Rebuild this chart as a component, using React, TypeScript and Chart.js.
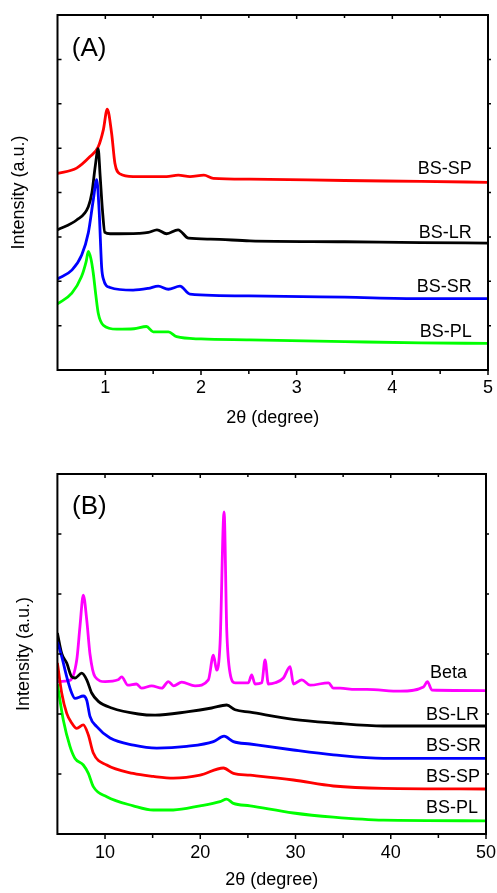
import React, { useEffect, useRef } from 'react';
import { Chart, registerables } from 'chart.js';

Chart.register(...registerables);

const FONT = '"Liberation Sans", Arial, Helvetica, sans-serif';

type Pt = [number, number];

// ---------- Panel (A): small-angle XRD, 2θ 0.5–5 ----------
const topSP: Pt[] = [[0.5,4.43],[0.7,4.55],[0.84,4.81],[0.926,5.03],[0.979,5.41],[1.02,5.88],[1.066,5.33],[1.1,4.66],[1.153,4.42],[1.29,4.36],[1.64,4.36],[1.762,4.39],[1.885,4.36],[2.03,4.39],[2.128,4.32],[2.51,4.3],[3.5,4.27],[4.3,4.25],[5.0,4.23]];
const topLR: Pt[] = [[0.5,3.16],[0.7,3.38],[0.822,3.68],[0.86,4.0],[0.895,4.6],[0.925,4.99],[0.945,4.4],[0.97,3.6],[0.995,3.1],[1.05,3.07],[1.35,3.08],[1.45,3.1],[1.54,3.16],[1.64,3.07],[1.76,3.16],[1.87,2.97],[2.1,2.95],[2.51,2.91],[3.5,2.89],[4.3,2.87],[5.0,2.86]];
const topSR: Pt[] = [[0.5,2.05],[0.65,2.25],[0.753,2.59],[0.822,3.09],[0.874,3.83],[0.91,4.29],[0.935,3.6],[0.962,2.3],[0.98,2.05],[1.049,1.86],[1.29,1.8],[1.45,1.84],[1.553,1.89],[1.658,1.82],[1.78,1.89],[1.885,1.71],[2.5,1.67],[3.5,1.64],[4.3,1.61],[5.0,1.61]];
const topPL: Pt[] = [[0.5,1.49],[0.65,1.73],[0.75,2.1],[0.8,2.45],[0.822,2.67],[0.85,2.5],[0.874,2.18],[0.9,1.7],[0.926,1.28],[0.979,1.01],[1.12,0.92],[1.3,0.93],[1.43,0.98],[1.5,0.86],[1.66,0.86],[1.745,0.75],[2.0,0.7],[2.51,0.68],[3.5,0.64],[4.3,0.61],[5.0,0.6]];

const topXLabels = [1, 2, 3, 4, 5];
const topXMinor = [1.5, 2.5, 3.5, 4.5];
const topYTicks = [1, 2, 3, 4, 5, 6, 7];
const topNames = ['BS-SP', 'BS-LR', 'BS-SR', 'BS-PL'];
const topNameX = [4.83, 4.83, 4.83, 4.83];
const topNameY = [4.54, 3.09, 1.87, 0.86];

// ---------- Panel (B): wide-angle XRD, 2θ 5–50 ----------
const botBeta: Pt[] = [[5.0,2.54],[6.3,2.56],[7.03,2.9],[7.37,3.46],[7.72,3.98],[8.08,3.57],[8.42,3.0],[8.95,2.62],[10.0,2.54],[11.37,2.57],[11.75,2.62],[12.4,2.48],[13.3,2.5],[13.85,2.43],[14.9,2.47],[15.95,2.43],[16.65,2.54],[17.2,2.47],[18.05,2.53],[19.45,2.47],[20.85,2.57],[21.38,2.98],[21.73,2.73],[22.08,3.18],[22.5,5.37],[22.78,3.4],[23.13,2.68],[23.66,2.52],[25.05,2.52],[25.4,2.65],[25.75,2.5],[26.46,2.52],[26.8,2.9],[27.15,2.5],[27.86,2.52],[28.73,2.6],[29.43,2.79],[29.78,2.5],[30.66,2.57],[31.53,2.48],[33.46,2.52],[33.98,2.43],[34.69,2.43],[36.26,2.41],[37.49,2.41],[41.0,2.38],[43.43,2.45],[43.85,2.54],[44.32,2.4],[50.0,2.39]];
const botLR: Pt[] = [[5.0,3.35],[5.45,3.01],[5.98,2.85],[6.5,2.62],[6.85,2.6],[7.55,2.68],[8.08,2.57],[8.6,2.35],[9.3,2.21],[10.7,2.1],[13.5,2.0],[15.25,1.98],[18.75,2.04],[21.2,2.1],[22.78,2.15],[23.66,2.07],[25.23,2.03],[29.78,1.91],[33.98,1.85],[39.23,1.8],[50,1.8]];
const botSR: Pt[] = [[5.0,3.2],[5.45,2.96],[5.98,2.62],[6.5,2.35],[6.85,2.26],[7.72,2.3],[8.08,2.23],[8.42,1.96],[9.13,1.79],[10.53,1.6],[13.0,1.48],[15.43,1.43],[18.58,1.46],[21.38,1.54],[22.5,1.63],[23.48,1.54],[25.23,1.5],[29.78,1.4],[33.98,1.32],[39.23,1.26],[50,1.26]];
const botSP: Pt[] = [[5.0,2.85],[5.45,2.35],[5.98,2.01],[6.5,1.85],[7.03,1.76],[7.72,1.82],[8.25,1.65],[8.77,1.35],[10.18,1.15],[12.97,1.01],[15.07,0.96],[17.17,0.93],[19.98,0.98],[22.43,1.1],[23.48,1.01],[25.23,0.98],[29.78,0.9],[33.98,0.8],[39.23,0.76],[50,0.75]];
const botPL: Pt[] = [[5.0,2.5],[5.62,1.9],[6.32,1.46],[6.85,1.26],[7.72,1.15],[8.25,1.01],[8.77,0.79],[10.18,0.62],[12.97,0.47],[15.07,0.4],[17.17,0.4],[19.98,0.47],[22.08,0.54],[22.78,0.58],[23.48,0.51],[25.23,0.47],[29.78,0.35],[33.98,0.28],[39.23,0.23],[50,0.22]];

const botXLabels = [10, 20, 30, 40, 50];
const botXMinor = [15, 25, 35, 45];
const botYTicks = [1, 2, 3, 4, 5];
const botNames = ['Beta', 'BS-LR', 'BS-SR', 'BS-SP', 'BS-PL'];
const botNameX = [48.0, 49.27, 49.48, 49.37, 49.16];
const botNameY = [2.68, 1.98, 1.47, 0.95, 0.43];

const COLORS: Record<string, string> = {
  'BS-SP': '#ff0000',
  'BS-LR': '#000000',
  'BS-SR': '#0000ff',
  'BS-PL': '#00ff00',
  'Beta': '#ff00ff',
};

interface Spec {
  tag: string;
  xMin: number; xMax: number; yMax: number;
  xLabels: number[]; xMinor: number[]; yTicks: number[];
  series: { name: string; pts: Pt[] }[];
  names: string[]; nameX: number[]; nameY: number[];
  tagX: number; tagY: number;
  padTop: number; padRight: number; yWidth: number; xHeight: number;
  xTitlePad: number; yTitlePad: number; tickPad: number;
}

const specA: Spec = {
  tag: '(A)', xMin: 0.5, xMax: 5, yMax: 8,
  xLabels: topXLabels, xMinor: topXMinor, yTicks: topYTicks,
  series: [
    { name: 'BS-PL', pts: topPL },
    { name: 'BS-SR', pts: topSR },
    { name: 'BS-LR', pts: topLR },
    { name: 'BS-SP', pts: topSP },
  ],
  names: topNames, nameX: topNameX, nameY: topNameY,
  tagX: 0.65, tagY: 7.23,
  padTop: 15, padRight: 9, yWidth: 57.5, xHeight: 76,
  xTitlePad: 17, yTitlePad: 8, tickPad: 7,
};

const specB: Spec = {
  tag: '(B)', xMin: 5, xMax: 50, yMax: 6,
  xLabels: botXLabels, xMinor: botXMinor, yTicks: botYTicks,
  series: [
    { name: 'BS-PL', pts: botPL },
    { name: 'BS-SP', pts: botSP },
    { name: 'BS-SR', pts: botSR },
    { name: 'BS-LR', pts: botLR },
    { name: 'Beta', pts: botBeta },
  ],
  names: botNames, nameX: botNameX, nameY: botNameY,
  tagX: 6.53, tagY: 5.45,
  padTop: 28, padRight: 11, yWidth: 57.4, xHeight: 59,
  xTitlePad: 2, yTitlePad: 13, tickPad: 8,
};

function buildConfig(spec: Spec): any {
  const frame = {
    id: 'frameAndLabels',
    afterDraw(chart: any) {
      const { ctx, chartArea } = chart;
      const { left, right, top, bottom } = chartArea;
      const x = chart.scales.x;
      const y = chart.scales.y;
      ctx.save();
      ctx.strokeStyle = '#000';
      ctx.lineWidth = 2;
      ctx.strokeRect(left, top, right - left, bottom - top);
      ctx.lineWidth = 1.5;
      ctx.beginPath();
      const xt = (v: number, len: number) => {
        const p = x.getPixelForValue(v);
        ctx.moveTo(p, bottom); ctx.lineTo(p, bottom + len);
        ctx.moveTo(p, top); ctx.lineTo(p, top + len - 1);
      };
      spec.xLabels.forEach((v) => xt(v, 5));
      spec.xMinor.forEach((v) => xt(v, 4));
      spec.yTicks.forEach((v) => {
        const p = y.getPixelForValue(v);
        ctx.moveTo(left, p); ctx.lineTo(left + 4, p);
        ctx.moveTo(right, p); ctx.lineTo(right + 3, p);
      });
      ctx.stroke();
      ctx.fillStyle = '#000';
      ctx.font = `18px ${FONT}`;
      ctx.textAlign = 'right';
      ctx.textBaseline = 'middle';
      spec.names.forEach((n, i) => {
        ctx.fillText(n, x.getPixelForValue(spec.nameX[i]), y.getPixelForValue(spec.nameY[i]));
      });
      ctx.font = `26px ${FONT}`;
      ctx.textAlign = 'left';
      ctx.fillText(spec.tag, x.getPixelForValue(spec.tagX), y.getPixelForValue(spec.tagY));
      ctx.restore();
    },
  };

  return {
    type: 'line',
    data: {
      datasets: spec.series.map((s) => ({
        label: s.name,
        data: s.pts.map(([px, py]) => ({ x: px, y: py })),
        borderColor: COLORS[s.name],
        backgroundColor: COLORS[s.name],
        borderWidth: 2.8,
        pointRadius: 0,
        fill: false,
        cubicInterpolationMode: 'monotone',
      })),
    },
    options: {
      responsive: false,
      animation: false,
      devicePixelRatio: 1,
      layout: { padding: { top: spec.padTop, right: spec.padRight, left: 0, bottom: 0 } },
      plugins: { legend: { display: false }, tooltip: { enabled: false } },
      scales: {
        x: {
          type: 'linear',
          min: spec.xMin,
          max: spec.xMax,
          afterBuildTicks: (s: any) => { s.ticks = spec.xLabels.map((v) => ({ value: v })); },
          afterFit: (s: any) => {
            s.height = spec.xHeight;
            s.paddingLeft = 0;
            s.paddingRight = 0;
          },
          ticks: {
            font: { size: 18, family: FONT },
            color: '#000',
            padding: spec.tickPad,
            maxRotation: 0,
            autoSkip: false,
            callback: (v: any) => String(v),
          },
          grid: { display: false, drawTicks: false },
          border: { display: false },
          title: {
            display: true,
            text: '2θ (degree)',
            color: '#000',
            font: { size: 18, family: FONT },
            padding: { top: 0, bottom: spec.xTitlePad },
          },
        },
        y: {
          type: 'linear',
          min: 0,
          max: spec.yMax,
          afterFit: (s: any) => {
            s.width = spec.yWidth;
            s.paddingTop = 0;
            s.paddingBottom = 0;
          },
          ticks: { display: false },
          grid: { display: false, drawTicks: false },
          border: { display: false },
          title: {
            display: true,
            text: 'Intensity (a.u.)',
            color: '#000',
            font: { size: 18, family: FONT },
            padding: { top: spec.yTitlePad, bottom: 0 },
          },
        },
      },
    },
    plugins: [frame],
  };
}

function Panel({ spec, top, height }: { spec: Spec; top: number; height: number }) {
  const ref = useRef<HTMLCanvasElement>(null);
  useEffect(() => {
    const chart = new Chart(ref.current as HTMLCanvasElement, buildConfig(spec));
    return () => chart.destroy();
  }, [spec]);
  return (
    <canvas
      ref={ref}
      width={497}
      height={height}
      style={{ position: 'absolute', left: 0, top, width: 497, height, display: 'block' }}
    />
  );
}

export default function App() {
  return (
    <div style={{ position: 'absolute', left: 0, top: 0, width: 497, height: 893, background: '#fff' }}>
      <Panel spec={specA} top={0} height={446} />
      <Panel spec={specB} top={446} height={447} />
    </div>
  );
}
